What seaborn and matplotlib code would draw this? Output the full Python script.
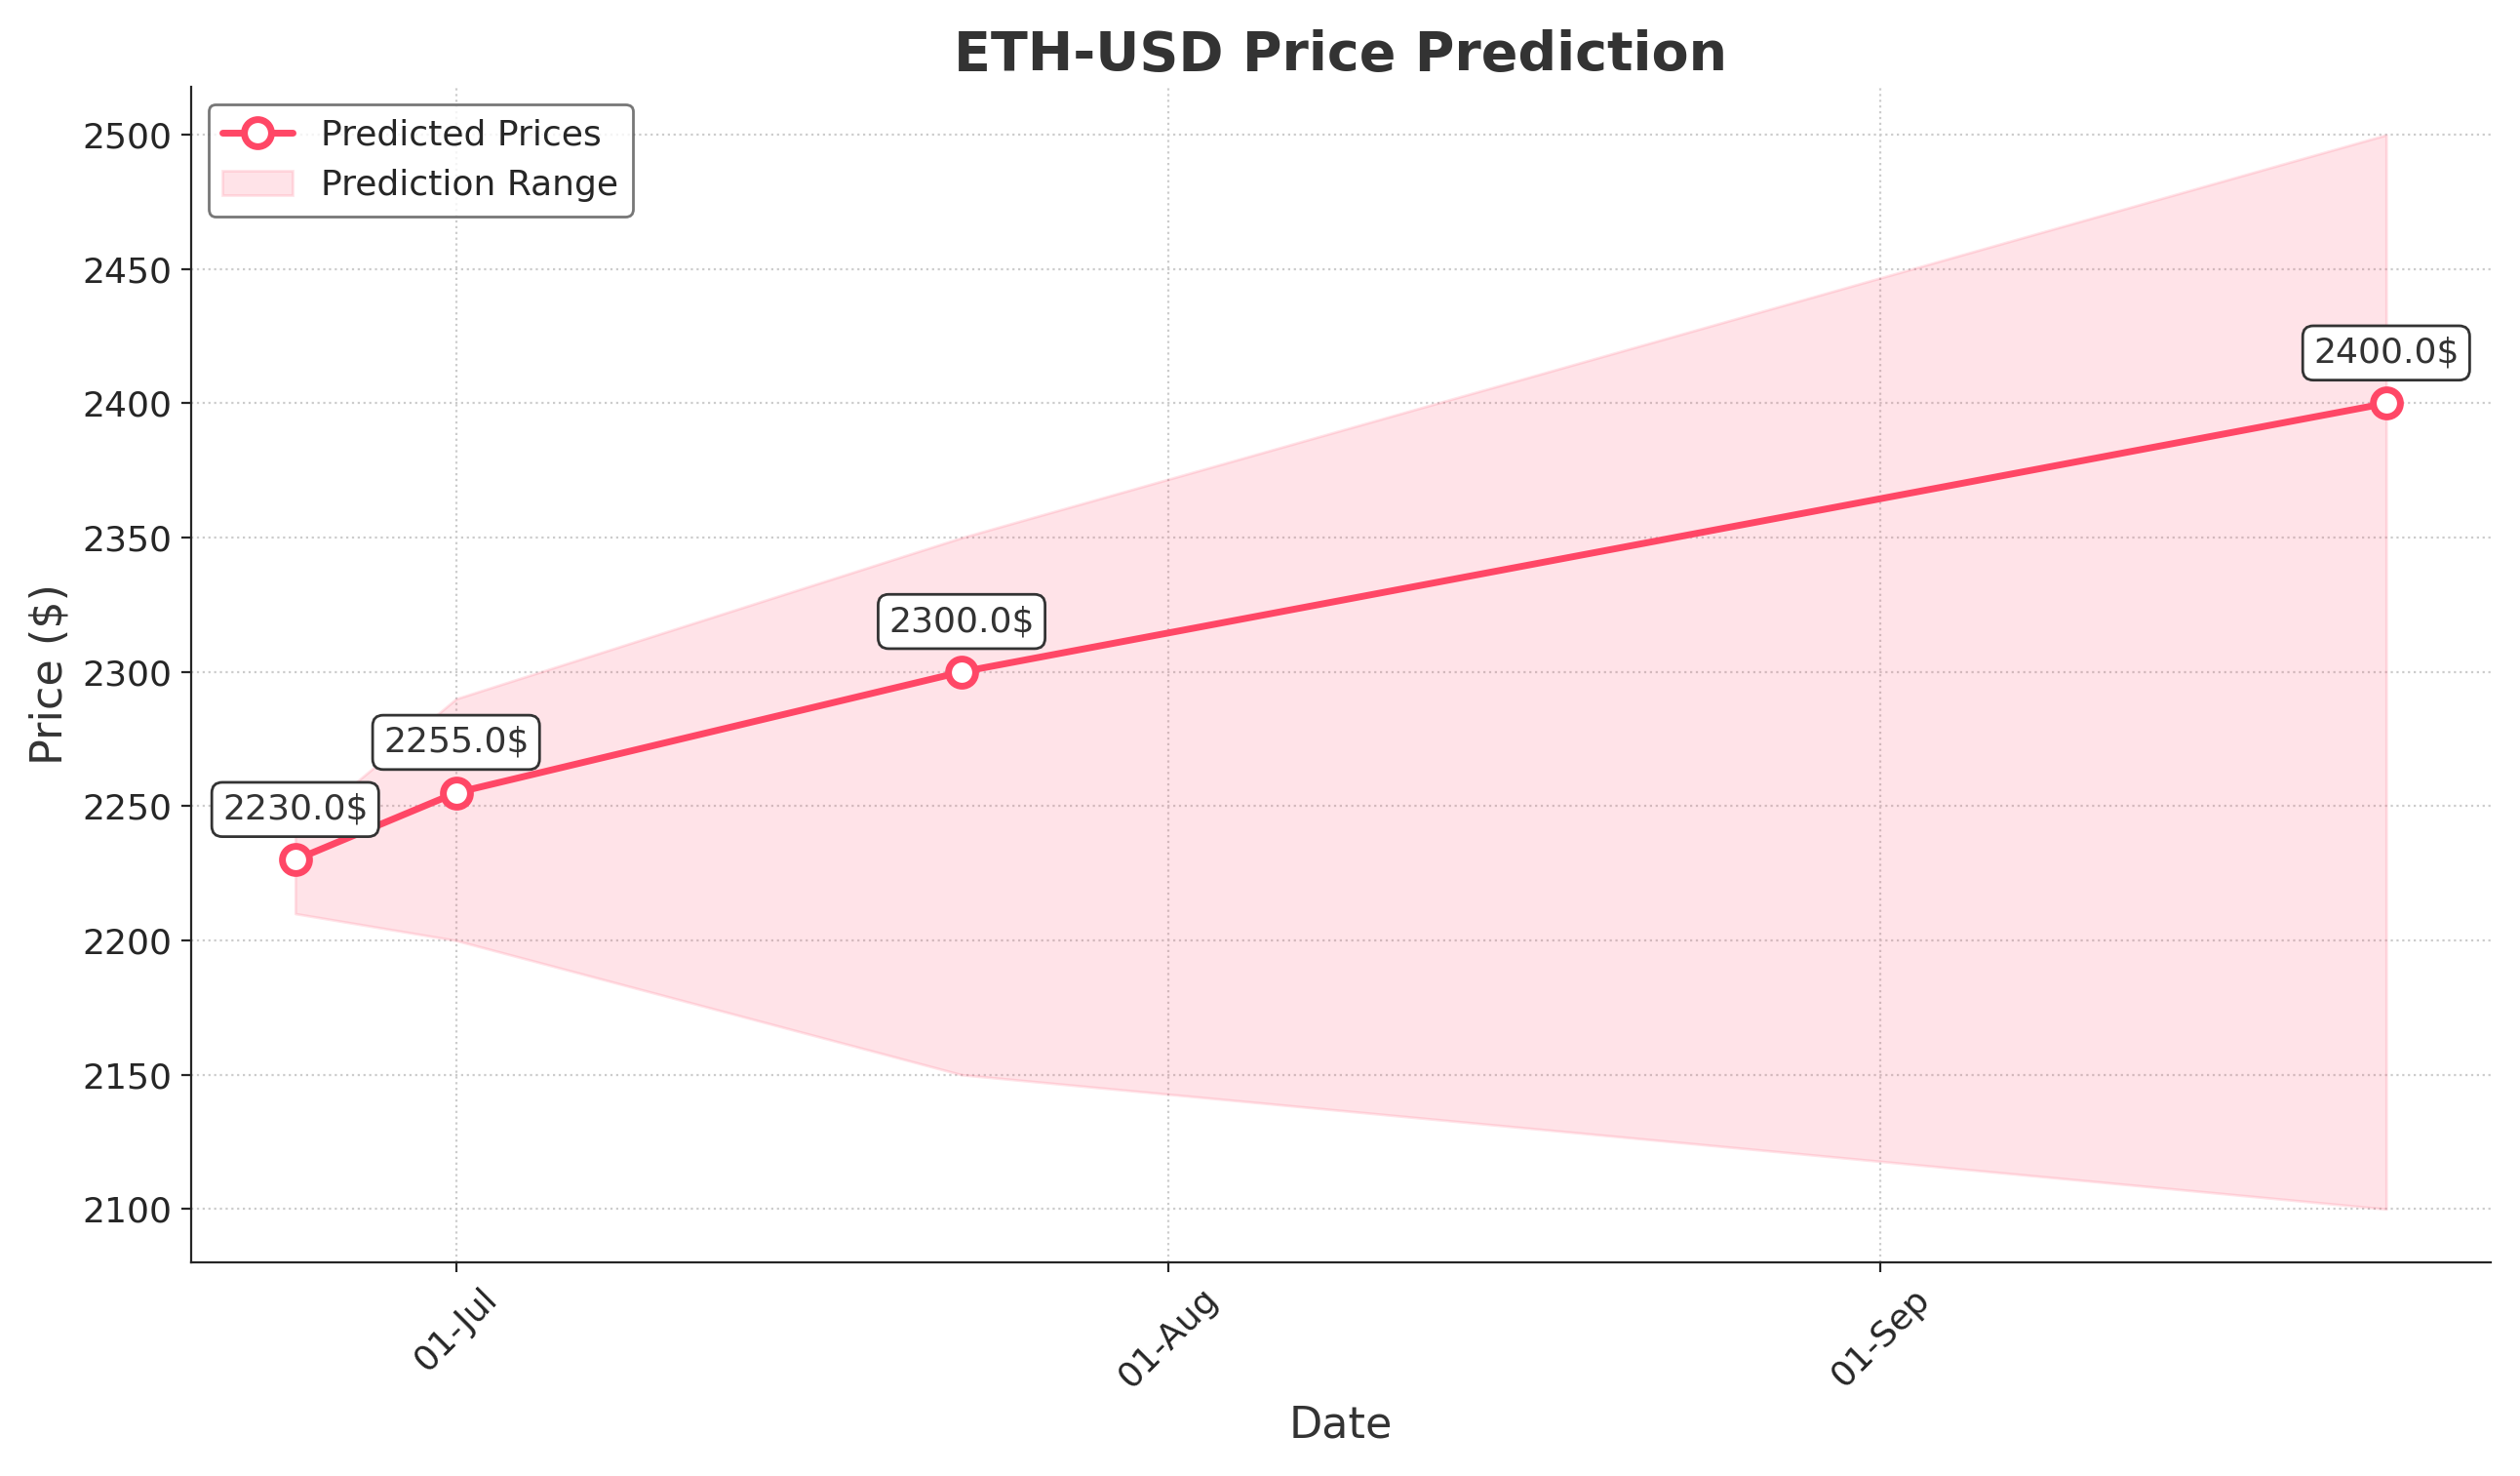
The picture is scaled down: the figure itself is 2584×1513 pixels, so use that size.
import matplotlib
matplotlib.use("Agg")
import matplotlib.pyplot as plt
import matplotlib.dates as mdates
import pandas as pd
import seaborn as sns

dates = ["2024-06-24", "2024-07-01", "2024-07-23", "2024-09-23"]
predicted = [2230.0, 2255.0, 2300.0, 2400.0]
lower = [2210, 2200, 2150, 2100]
upper = [2240, 2290, 2350, 2500]

df = pd.DataFrame({"date": pd.to_datetime(dates), "price": predicted,
                   "lower": lower, "upper": upper})

color = "#ff4766"
sns.set_style("ticks")
fig, ax = plt.subplots(figsize=(12.92, 7.565), dpi=200)
sns.lineplot(data=df, x="date", y="price", ax=ax, color=color, lw=2.5,
             marker="o", markersize=10, markerfacecolor="white",
             markeredgecolor=color, markeredgewidth=2.5, label="Predicted Prices")
ax.fill_between(df["date"], df["lower"], df["upper"], color=color, alpha=0.15,
                label="Prediction Range")
for d, p in zip(df["date"], df["price"]):
    ax.annotate(f"{p}$", (d, p), xytext=(0, 15), textcoords="offset points",
                ha="center", fontsize=13, color="#333333",
                bbox=dict(boxstyle="round,pad=0.3", fc="white", ec="#333333"))
ax.xaxis.set_major_locator(mdates.MonthLocator())
ax.xaxis.set_major_formatter(mdates.DateFormatter("%d-%b"))
plt.setp(ax.get_xticklabels(), rotation=45, fontsize=13)
plt.setp(ax.get_yticklabels(), fontsize=13)
ax.set_ylim(2080, 2518)
ax.grid(True, linestyle=":", color="#cccccc")
ax.set_title("ETH-USD Price Prediction", fontsize=20, fontweight="bold", color="#333333")
ax.set_xlabel("Date", fontsize=16, color="#333333")
ax.set_ylabel("Price ($)", fontsize=16, color="#333333")
sns.despine(ax=ax)
ax.legend(loc="upper left", fontsize=13, edgecolor="#555555")
fig.tight_layout()
fig.savefig("out.png", dpi=200)
